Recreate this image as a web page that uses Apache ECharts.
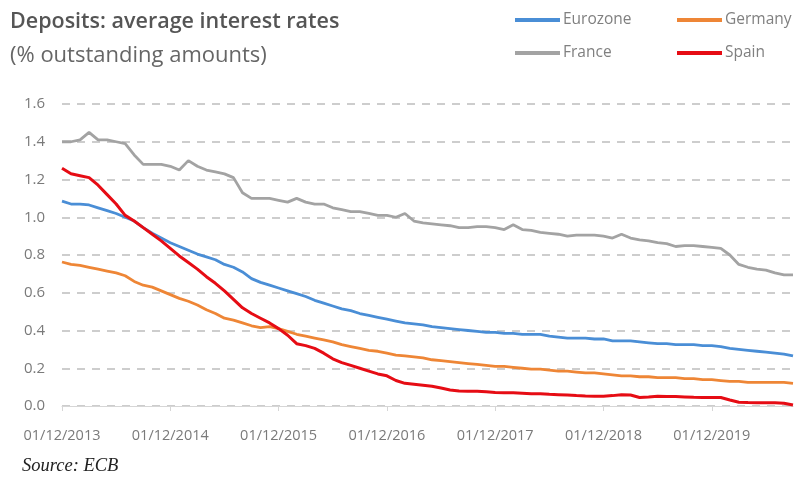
<!DOCTYPE html>
<html><head><meta charset="utf-8">
<script src="https://cdn.jsdelivr.net/npm/echarts@6/dist/echarts.min.js"></script>
<style>html,body{margin:0;padding:0;background:#fff}#c{width:796px;height:478px}</style>
</head><body><div id="c"></div>
<script>
// Monthly categories: Dec 2013 .. Sep 2020
const months = [];
for (let y = 2013, m = 12; months.length < 82; ) {
  months.push('01/' + String(m).padStart(2, '0') + '/' + y);
  m++; if (m > 12) { m = 1; y++; }
}
const yTicks = [0.0, 0.2, 0.4, 0.6, 0.8, 1.0, 1.2, 1.4, 1.6];

const eurozone = [1.085,1.07,1.07,1.065,1.05,1.035,1.02,1.00,0.98,0.945,0.915,0.89,0.865,0.845,0.825,0.805,0.79,0.775,0.75,0.735,0.71,0.675,0.655,0.64,0.625,0.61,0.595,0.58,0.56,0.545,0.53,0.515,0.505,0.49,0.48,0.47,0.46,0.45,0.44,0.435,0.43,0.42,0.415,0.41,0.405,0.40,0.395,0.39,0.39,0.385,0.385,0.38,0.38,0.38,0.37,0.365,0.36,0.36,0.36,0.355,0.355,0.345,0.345,0.345,0.34,0.335,0.33,0.33,0.325,0.325,0.325,0.32,0.32,0.315,0.305,0.30,0.295,0.29,0.285,0.28,0.275,0.265];
const germany = [0.763,0.75,0.745,0.735,0.725,0.715,0.705,0.69,0.66,0.64,0.63,0.61,0.59,0.57,0.555,0.535,0.51,0.49,0.465,0.455,0.44,0.425,0.415,0.42,0.41,0.395,0.38,0.37,0.36,0.35,0.34,0.325,0.315,0.305,0.295,0.29,0.28,0.27,0.265,0.26,0.255,0.245,0.24,0.235,0.23,0.225,0.22,0.215,0.21,0.21,0.205,0.20,0.195,0.195,0.19,0.185,0.185,0.18,0.175,0.175,0.17,0.165,0.16,0.16,0.155,0.155,0.15,0.15,0.15,0.145,0.145,0.14,0.14,0.135,0.13,0.13,0.125,0.125,0.125,0.125,0.125,0.12];
const france = [1.40,1.40,1.41,1.45,1.41,1.41,1.40,1.39,1.33,1.28,1.28,1.28,1.27,1.25,1.30,1.27,1.25,1.24,1.23,1.21,1.13,1.10,1.10,1.10,1.09,1.08,1.10,1.08,1.07,1.07,1.05,1.04,1.03,1.03,1.02,1.01,1.01,1.00,1.02,0.98,0.97,0.965,0.96,0.955,0.945,0.945,0.95,0.95,0.945,0.935,0.96,0.935,0.93,0.92,0.915,0.91,0.90,0.905,0.905,0.905,0.90,0.89,0.91,0.89,0.88,0.875,0.865,0.86,0.845,0.85,0.85,0.845,0.84,0.835,0.80,0.75,0.735,0.725,0.72,0.705,0.695,0.695];
const spain = [1.26,1.23,1.22,1.21,1.17,1.12,1.07,1.01,0.98,0.945,0.91,0.875,0.835,0.795,0.76,0.725,0.685,0.65,0.61,0.565,0.52,0.49,0.465,0.44,0.41,0.375,0.33,0.32,0.305,0.28,0.25,0.23,0.215,0.20,0.185,0.17,0.16,0.135,0.12,0.115,0.11,0.105,0.095,0.085,0.08,0.078,0.078,0.075,0.072,0.07,0.07,0.068,0.065,0.065,0.062,0.06,0.058,0.055,0.053,0.052,0.052,0.055,0.06,0.058,0.045,0.048,0.052,0.05,0.05,0.048,0.046,0.045,0.045,0.045,0.032,0.02,0.018,0.017,0.017,0.017,0.015,0.005];

const seriesNames = ['Eurozone', 'Germany', 'France', 'Spain'];
const seriesData = [eurozone, germany, france, spain];
const colors = ['#4a8ed6', '#ee8636', '#a3a3a3', '#e60c14'];

const chart = echarts.init(document.getElementById('c'), null, {renderer: 'canvas'});
const legendPos = [[510, 7], [672, 7], [510, 40], [672, 40]];
const FONT = 'Open Sans';
chart.setOption({
  animation: false,
  color: colors,
  title: [
    {text: 'Deposits: average interest rates', left: 5, top: 6,
     textStyle: {fontFamily: FONT, fontWeight: 600, fontSize: 21.5, color: '#555'}},
    {text: '(% outstanding amounts)', left: 5, top: 40,
     textStyle: {fontFamily: FONT, fontWeight: 'normal', fontSize: 22, color: '#666'}},
    {text: 'Source: ECB', left: 17, top: 452,
     textStyle: {fontFamily: 'Liberation Serif', fontStyle: 'italic', fontWeight: 'normal', fontSize: 18.5, color: '#222'}}
  ],
  legend: seriesNames.map((n, i) => ({
    data: [n], left: legendPos[i][0], top: legendPos[i][1],
    icon: 'rect', itemWidth: 45, itemHeight: 4, itemGap: 5,
    textStyle: {fontFamily: FONT, fontSize: 15.5, color: '#808080', padding: [0,0,0,-2]}
  })),
  grid: {left: 62, right: 3, top: 104, bottom: 72, containLabel: false},
  xAxis: {
    type: 'category', data: months, boundaryGap: false,
    axisLine: {show: true, lineStyle: {color: '#d6d6d6', width: 1}},
    axisTick: {show: true, length: 5, interval: (i) => i % 12 === 0, lineStyle: {color: '#d6d6d6'}},
    axisLabel: {interval: (i) => i % 12 === 0, fontFamily: FONT, fontSize: 14.5, color: '#7a7a7a', margin: 22},
    splitLine: {show: false}
  },
  yAxis: {
    type: 'value', min: yTicks[0], max: yTicks[yTicks.length - 1], interval: 0.2,
    axisLine: {show: false}, axisTick: {show: false},
    axisLabel: {formatter: (v) => v.toFixed(1), fontFamily: FONT, fontSize: 15, color: '#7a7a7a', margin: 17},
    splitLine: {show: true, lineStyle: {color: '#bdbdbd', type: [8, 7], width: 1.5}}
  },
  series: seriesNames.map((n, i) => ({
    name: n, type: 'line', data: seriesData[i], showSymbol: false, symbol: 'none',
    lineStyle: {width: i === 3 ? 3 : 2.8, color: colors[i]},
    z: i + 2
  }))
});
</script></body></html>
